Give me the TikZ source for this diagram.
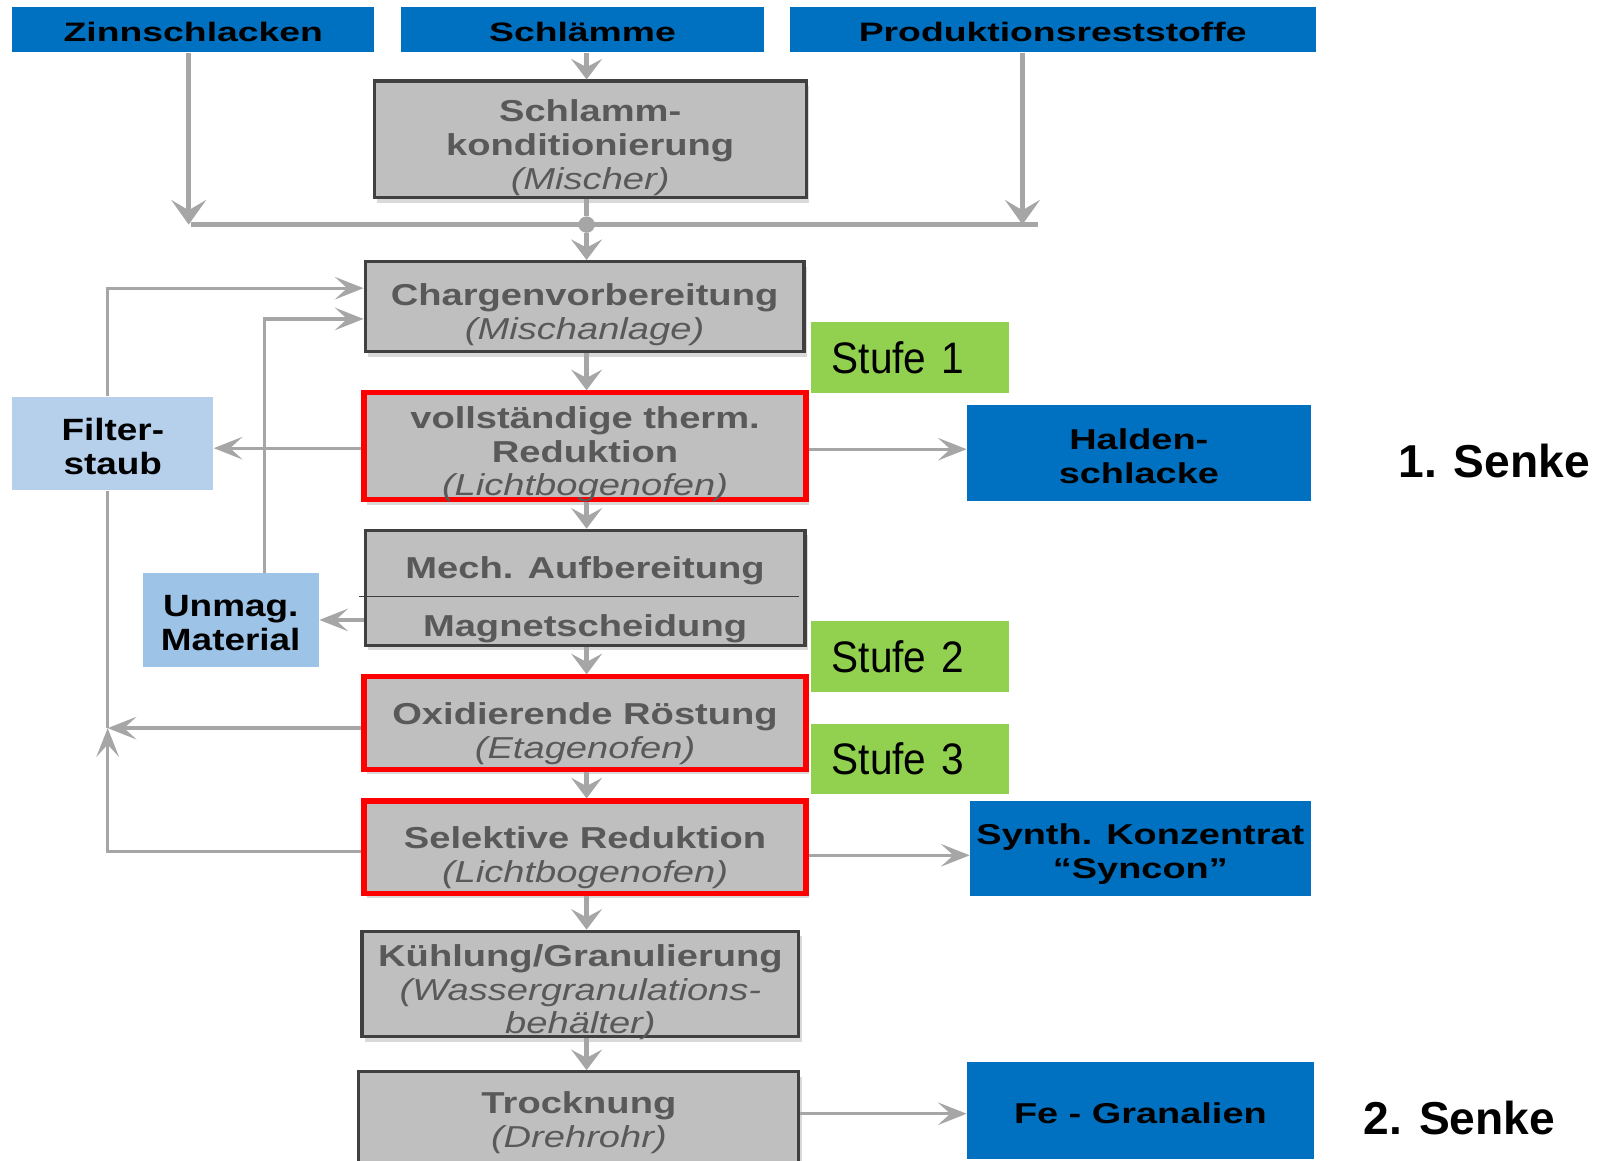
\documentclass[tikz,border=0pt]{standalone}
\usepackage{fontspec}
\setmainfont{Liberation Sans}
\newfontfamily\grayfont[FakeStretch=1.26]{Liberation Sans}
\newfontfamily\bluefont[FakeStretch=1.32]{Liberation Sans}
\newfontfamily\topfont[FakeStretch=1.4]{Liberation Sans}
\newfontfamily\lbfont[FakeStretch=1.2]{Liberation Sans}
\newfontfamily\stufefont[FakeStretch=0.92]{Liberation Sans}
\usetikzlibrary{arrows.meta,shadows,calc}
\definecolor{cblue}{HTML}{0070C0}
\definecolor{cgreen}{HTML}{92D050}
\definecolor{boxfill}{HTML}{BFBFBF}
\definecolor{boxborder}{HTML}{404040}
\definecolor{boxtext}{HTML}{595959}
\definecolor{arrowgray}{HTML}{A6A6A6}
\definecolor{lbone}{HTML}{B6D0EC}
\definecolor{lbtwo}{HTML}{9DC3E6}
\definecolor{cred}{HTML}{FF0000}
\newcommand\subtxt[1]{{\mdseries\itshape #1}}
\tikzset{
  topbox/.style={fill=cblue, minimum height=22pt, inner sep=0pt},
  toptext/.style={inner sep=0pt, text=black, font=\topfont\bfseries\fontsize{13pt}{15pt}\selectfont},
  ttx/.style={label={[toptext, yshift=-1pt]center:{#1}}},
  graybox/.style={draw=boxborder, line width=1.5pt, fill=boxfill, inner sep=0pt,
    drop shadow={shadow xshift=1.5pt, shadow yshift=-2.5pt, fill=black!15, opacity=1}},
  redbox/.style={graybox, draw=cred, line width=2.5pt},
  graytext/.style={inner sep=0pt, text=boxtext, align=center,
    font=\grayfont\bfseries\fontsize{14.75pt}{16.5pt}\selectfont},
  gtx/.style={label={[graytext, yshift=-4pt]center:{#1}}},
  gtxlow/.style={label={[graytext, yshift=-5pt]center:{#1}}},
  gtxmid/.style={label={[graytext]center:{#1}}},
  greenbox/.style={fill=cgreen, minimum width=96.5pt, minimum height=34.5pt,
    text width=76.5pt, align=left, inner xsep=10pt, inner ysep=0pt, text=black,
    font=\stufefont\fontsize{21.5pt}{24pt}\selectfont},
  lbox/.style={minimum height=45.5pt, inner sep=0pt},
  lbtext/.style={inner sep=0pt, align=center, text=black,
    font=\lbfont\bfseries\fontsize{15pt}{16.5pt}\selectfont},
  ltx/.style={label={[lbtext, yshift=-1.5pt]center:{#1}}},
  bluebox/.style={fill=cblue, inner sep=0pt},
  bluetext/.style={inner sep=0pt, align=center, text=black,
    font=\bluefont\bfseries\fontsize{14pt}{16.5pt}\selectfont},
  btx/.style={label={[bluetext, yshift=-1.5pt]center:{#1}}},
  btxlow/.style={label={[bluetext, yshift=-2.5pt]center:{#1}}},
  senke/.style={inner sep=0pt, text=black, font=\bfseries\fontsize{22.5pt}{26pt}\selectfont},
  conn/.style={draw=arrowgray, line width=2.2pt},
  varrow/.style={conn, -{Stealth[length=10pt,width=15pt,inset=4pt]}},
  bigvarrow/.style={conn, -{Stealth[length=12pt,width=17pt,inset=5pt]}},
  harrow/.style={draw=arrowgray, line width=1.6pt, -{Stealth[length=14pt,width=11pt,inset=6pt]}},
  fline/.style={draw=arrowgray, line width=1.6pt},
  sepline/.style={draw=boxborder, line width=0.6pt}
}
\begin{document}
\begin{tikzpicture}[x=0.5pt,y=-0.5pt]
\useasboundingbox (0,0) rectangle (1568,1132);

% input boxes
\node[topbox, minimum width=176.5pt, ttx={Zinnschlacken}] (zinn) at (188.5,29) {};
\node[topbox, minimum width=177pt, ttx={Schlämme}] (schl) at (568,29) {};
\node[topbox, minimum width=256.5pt, ttx={Produktionsreststoffe}] (prod) at (1026.5,29) {};

% process boxes
\node[graybox, minimum width=210.5pt, minimum height=57pt,
  gtx={Schlamm-\\konditionierung\\\subtxt{(Mischer)}}] (mix) at (575.5,136) {};
\node[graybox, minimum width=214pt, minimum height=44pt,
  gtx={Chargenvorbereitung\\\subtxt{(Mischanlage)}}] (charge) at (570,299) {};
\node[greenbox] (st1) at (887.5,348.5) {Stufe 1};
\node[redbox, minimum width=215.5pt, minimum height=52pt,
  gtx={vollständige therm.\\Reduktion\\\subtxt{(Lichtbogenofen)}}] (voll) at (570.5,435) {};
\node[lbox, fill=lbone, minimum width=98pt, ltx={Filter-\\staub}] (filt) at (110,432.5) {};
\node[bluebox, minimum width=167.5pt, minimum height=47pt,
  btx={Halden-\\schlacke}] (halden) at (1110.5,442) {};
\node[graybox, minimum width=214.5pt, minimum height=56pt] (mech) at (570.5,573) {};
\node[graytext] (mecha) at (570.5,556.5) {Mech. Aufbereitung};
\node[graytext] (mechb) at (570.5,613) {Magnetscheidung};
\node[lbox, fill=lbtwo, minimum width=86pt, ltx={Unmag.\\Material}] (unmag) at (225,604.5) {};
\node[greenbox] (st2) at (887.5,640.5) {Stufe 2};
\node[redbox, minimum width=215.5pt, minimum height=45pt,
  gtxlow={Oxidierende Röstung\\\subtxt{(Etagenofen)}}] (oxid) at (570.5,705) {};
\node[greenbox, minimum height=34pt] (st3) at (887.5,740) {Stufe 3};
\node[redbox, minimum width=215.5pt, minimum height=45pt,
  gtxlow={Selektive Reduktion\\\subtxt{(Lichtbogenofen)}}] (sel) at (570.5,826) {};
\node[bluebox, minimum width=166pt, minimum height=46.5pt,
  btxlow={Synth. Konzentrat\\“Syncon”}] (syn) at (1112,827.5) {};
\node[graybox, minimum width=213pt, minimum height=51.5pt,
  gtx={Kühlung/Granulierung\\\subtxt{(Wassergranulations-}\\\subtxt{behälter)}}] (kuehl) at (566,959.5) {};
\node[graybox, minimum width=214.5pt, minimum height=50pt,
  gtxmid={Trocknung\\\subtxt{(Drehrohr)}}] (trock) at (564.5,1095) {};
\node[bluebox, minimum width=169pt, minimum height=47pt,
  btx={Fe - Granalien}] (fe) at (1112,1083) {};
\node[senke] (s1) at (1457,450) {1. Senke};
\node[senke] (s2) at (1423,1090) {2. Senke};

% separator in mech box
\draw[sepline] ([xshift=-2pt,yshift=-4.5pt]mech.west) -- ([xshift=-3.5pt,yshift=-4.5pt]mech.east);

% collector
\coordinate (colL) at (186,219);
\coordinate (colR) at (1012,219);
\coordinate (zin) at (184,219);
\coordinate (prin) at (997,219);
\node[circle, fill=arrowgray, minimum size=8pt, inner sep=0pt] (dot) at (572,219) {};
\draw[conn] (colL) -- (colR);
\draw[bigvarrow] (zinn.south -| zin) -- (zin);
\draw[bigvarrow] (prod.south -| prin) -- (prin);
\draw[varrow] (schl.south -| dot) -- (mix.north -| dot);
\draw[conn] (mix.south -| dot) -- (dot);
\draw[varrow] (dot) -- (charge.north -| dot);
\draw[varrow] (charge.south -| dot) -- (voll.north -| dot);
\draw[varrow] (voll.south -| dot) -- (mech.north -| dot);
\draw[varrow] (mech.south -| dot) -- (oxid.north -| dot);
\draw[varrow] (oxid.south -| dot) -- (sel.north -| dot);
\draw[varrow] (sel.south -| dot) -- (kuehl.north -| dot);
\draw[varrow] (kuehl.south -| dot) -- (trock.north -| dot);

% side outputs
\draw[harrow] ([yshift=-1pt]voll.west) -- ([yshift=-1pt]voll.west -| filt.east);
\draw[harrow] ([yshift=-1.5pt]voll.east) -- ([yshift=-1.5pt]voll.east -| halden.west);
\draw[harrow] (unmag.east -| mech.west) -- (unmag.east);
\draw[harrow] ([yshift=-4pt]sel.east) -- ([yshift=-4pt]sel.east -| syn.west);
\draw[harrow] ([yshift=-1.5pt]fe.west -| trock.east) -- ([yshift=-1.5pt]fe.west);

% recycling loops
\coordinate (jn) at (105,710);
\draw[fline] ([xshift=-2.5pt]filt.south) -- (jn);
\draw[harrow] (oxid.west |- jn) -- (jn);
\draw[harrow] ([yshift=-2pt]sel.west) -| (jn);
\draw[harrow] ([xshift=-2.5pt]filt.north) |- ([yshift=9pt]charge.west);
\draw[harrow] ([xshift=16.5pt]unmag.north) |- ([yshift=-6pt]charge.west);
\end{tikzpicture}
\end{document}
